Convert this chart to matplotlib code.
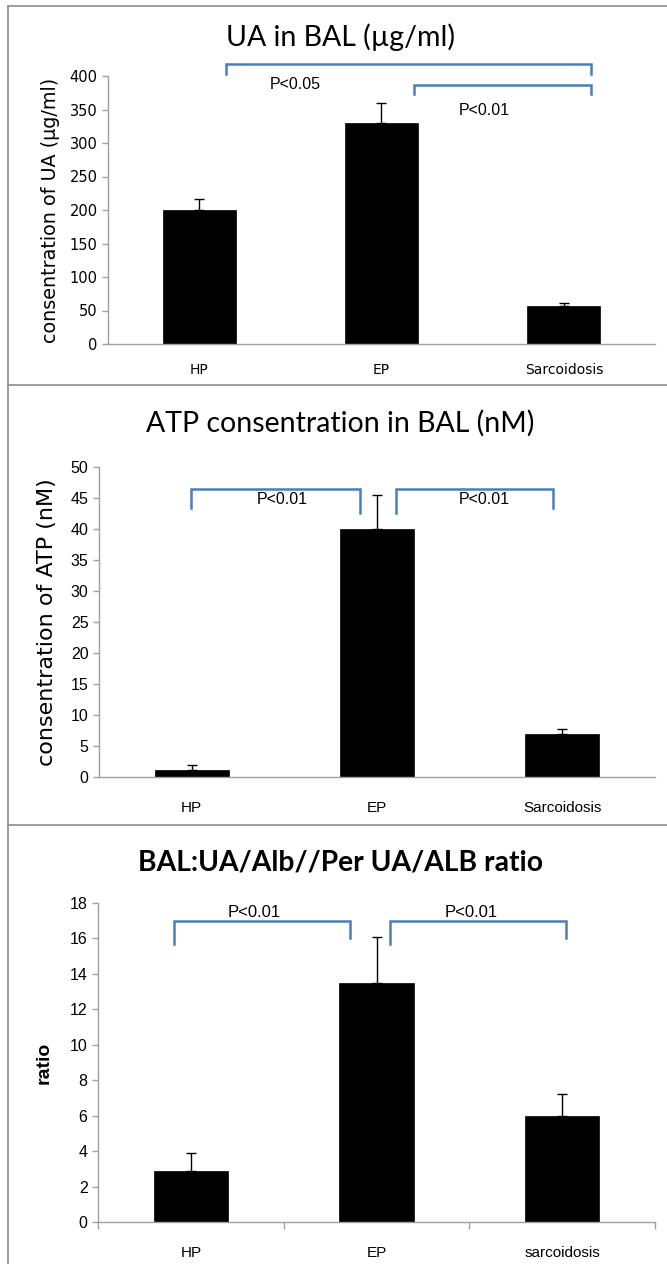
#!/usr/bin/env python3
"""Three stacked bar panels: UA, ATP and UA/Alb ratio in BAL."""

import matplotlib
matplotlib.use("Agg")
import matplotlib.pyplot as plt
from matplotlib.lines import Line2D

GROUPS = ["HP", "EP", "Sarcoidosis"]
GROUPS_RATIO = ["HP", "EP", "sarcoidosis"]

UA_MEAN = [200, 330, 57]
UA_ERR = [16, 30, 4]

ATP_MEAN = [1.1, 40, 6.9]
ATP_ERR = [0.8, 5.5, 0.8]

RATIO_MEAN = [2.9, 13.5, 6.0]
RATIO_ERR = [1.0, 2.6, 1.2]

W, H = 667, 1264
BLUE = "#4a7ebb"
AXIS_GRAY = "#a0a0a0"
ARIAL = ["Liberation Sans", "DejaVu Sans"]
TITLE = ["Lato", "DejaVu Sans"]


def px_box(left, top, right, bottom):
    return [left / W, 1 - bottom / H, (right - left) / W, (bottom - top) / H]


def draw_bars(ax, labels, means, errs):
    x = range(len(labels))
    ax.bar(x, means, width=0.4, color="black", edgecolor="black", linewidth=0.5)
    ax.errorbar(x, means, yerr=[[0] * len(errs), errs], fmt="none",
                ecolor="black", elinewidth=1, capsize=3.5, capthick=1)
    ax.set_xlim(-0.5, len(labels) - 0.5)
    ax.set_xticks(list(x))
    for side in ("top", "right"):
        ax.spines[side].set_visible(False)
    for side in ("left", "bottom"):
        ax.spines[side].set_color(AXIS_GRAY)
        ax.spines[side].set_linewidth(1)
    ax.tick_params(axis="y", colors=AXIS_GRAY, length=4, width=1,
                   labelcolor="black")
    ax.tick_params(axis="x", length=0)


def style_yticks(ax, size, family):
    for lab in ax.get_yticklabels():
        lab.set_fontsize(size)
        lab.set_family(family)


def bracket(ax, x0, x1, y_top, y_left, y_right):
    ax.plot([x0, x0, x1, x1], [y_left, y_top, y_top, y_right],
            color=BLUE, lw=1.8, clip_on=False, solid_joinstyle="miter")


def main() -> None:
    fig = plt.figure(figsize=(W / 100, H / 100), dpi=100)

    # panel borders
    border = dict(color="#8c8c8c", lw=1.2)
    fig.add_artist(Line2D([8 / W, 8 / W], [0, 1 - 6 / H], **border))
    fig.add_artist(Line2D([8 / W, 1], [1 - 6 / H, 1 - 6 / H], **border))
    fig.add_artist(Line2D([8 / W, 1], [1 - 385 / H, 1 - 385 / H], **border))
    fig.add_artist(Line2D([8 / W, 1], [1 - 825 / H, 1 - 825 / H], **border))

    # panel 1 - UA
    ax1 = fig.add_axes(px_box(108, 76, 655, 344))
    draw_bars(ax1, GROUPS, UA_MEAN, UA_ERR)
    ax1.set_ylim(0, 400)
    ax1.set_yticks(range(0, 401, 50))
    ax1.set_xticklabels(GROUPS, fontsize=10, family="DejaVu Sans")
    ax1.tick_params(axis="x", pad=14)
    style_yticks(ax1, 10.5, "DejaVu Sans")
    ax1.set_ylabel("consentration of UA (µg/ml)", fontsize=13.8,
                   family="DejaVu Sans")
    ax1.yaxis.set_label_coords(-0.088, 0.5)
    fig.text(340 / W, 1 - 37 / H, "UA in BAL (µg/ml)", ha="center",
             va="center", fontsize=20.5, family=TITLE)
    bracket(ax1, 0.148, 2.148, 418, 403, 403)
    bracket(ax1, 1.176, 2.148, 386.6, 373, 373)
    ax1.text(0.527, 386.6, "P<0.05", ha="center", va="center",
             fontsize=11.5, family=ARIAL)
    ax1.text(1.566, 348, "P<0.01", ha="center", va="center",
             fontsize=11.5, family=ARIAL)

    # panel 2 - ATP
    ax2 = fig.add_axes(px_box(99, 467, 655, 777))
    draw_bars(ax2, GROUPS, ATP_MEAN, ATP_ERR)
    ax2.set_ylim(0, 50)
    ax2.set_yticks(range(0, 51, 5))
    ax2.set_xticklabels(GROUPS, fontsize=11, family=ARIAL)
    ax2.tick_params(axis="x", pad=17)
    style_yticks(ax2, 11.5, ARIAL)
    ax2.set_ylabel("consentration of ATP (nM)", fontsize=16,
                   family="DejaVu Sans")
    ax2.yaxis.set_label_coords(-0.0755, 0.5)
    fig.text(340 / W, 1 - 423 / H, "ATP consentration in BAL (nM)",
             ha="center", va="center", fontsize=20.5, family=TITLE)
    bracket(ax2, -0.005, 0.91, 46.5, 43.4, 42.6)
    bracket(ax2, 1.105, 1.95, 46.5, 42.6, 43.4)
    ax2.text(0.49, 44.8, "P<0.01", ha="center", va="center",
             fontsize=11.5, family=ARIAL)
    ax2.text(1.58, 44.8, "P<0.01", ha="center", va="center",
             fontsize=11.5, family=ARIAL)

    # panel 3 - ratio
    ax3 = fig.add_axes(px_box(98, 903, 655, 1222))
    draw_bars(ax3, GROUPS_RATIO, RATIO_MEAN, RATIO_ERR)
    ax3.set_ylim(0, 18)
    ax3.set_yticks(range(0, 19, 2))
    ax3.set_xticklabels(GROUPS_RATIO, fontsize=11, family=ARIAL)
    ax3.set_xticks([-0.5, 0.5, 1.5, 2.5], minor=True)
    ax3.tick_params(axis="x", which="minor", length=5, width=1,
                    colors=AXIS_GRAY)
    ax3.tick_params(axis="x", which="major", pad=17)
    style_yticks(ax3, 11.5, ARIAL)
    ax3.set_ylabel("ratio", fontsize=14, family=ARIAL, fontweight="bold")
    ax3.yaxis.set_label_coords(-0.081, 0.5)
    fig.text(340 / W, 1 - 862 / H, "BAL:UA/Alb//Per UA/ALB ratio",
             ha="center", va="center", fontsize=20.3, family=TITLE,
             fontweight="bold")
    bracket(ax3, -0.09, 0.855, 17.0, 15.7, 16.0)
    bracket(ax3, 1.075, 2.02, 17.0, 15.7, 16.0)
    ax3.text(0.34, 17.45, "P<0.01", ha="center", va="center",
             fontsize=12, family=ARIAL)
    ax3.text(1.51, 17.45, "P<0.01", ha="center", va="center",
             fontsize=12, family=ARIAL)

    fig.savefig("out.png", dpi=100)


if __name__ == "__main__":
    main()
